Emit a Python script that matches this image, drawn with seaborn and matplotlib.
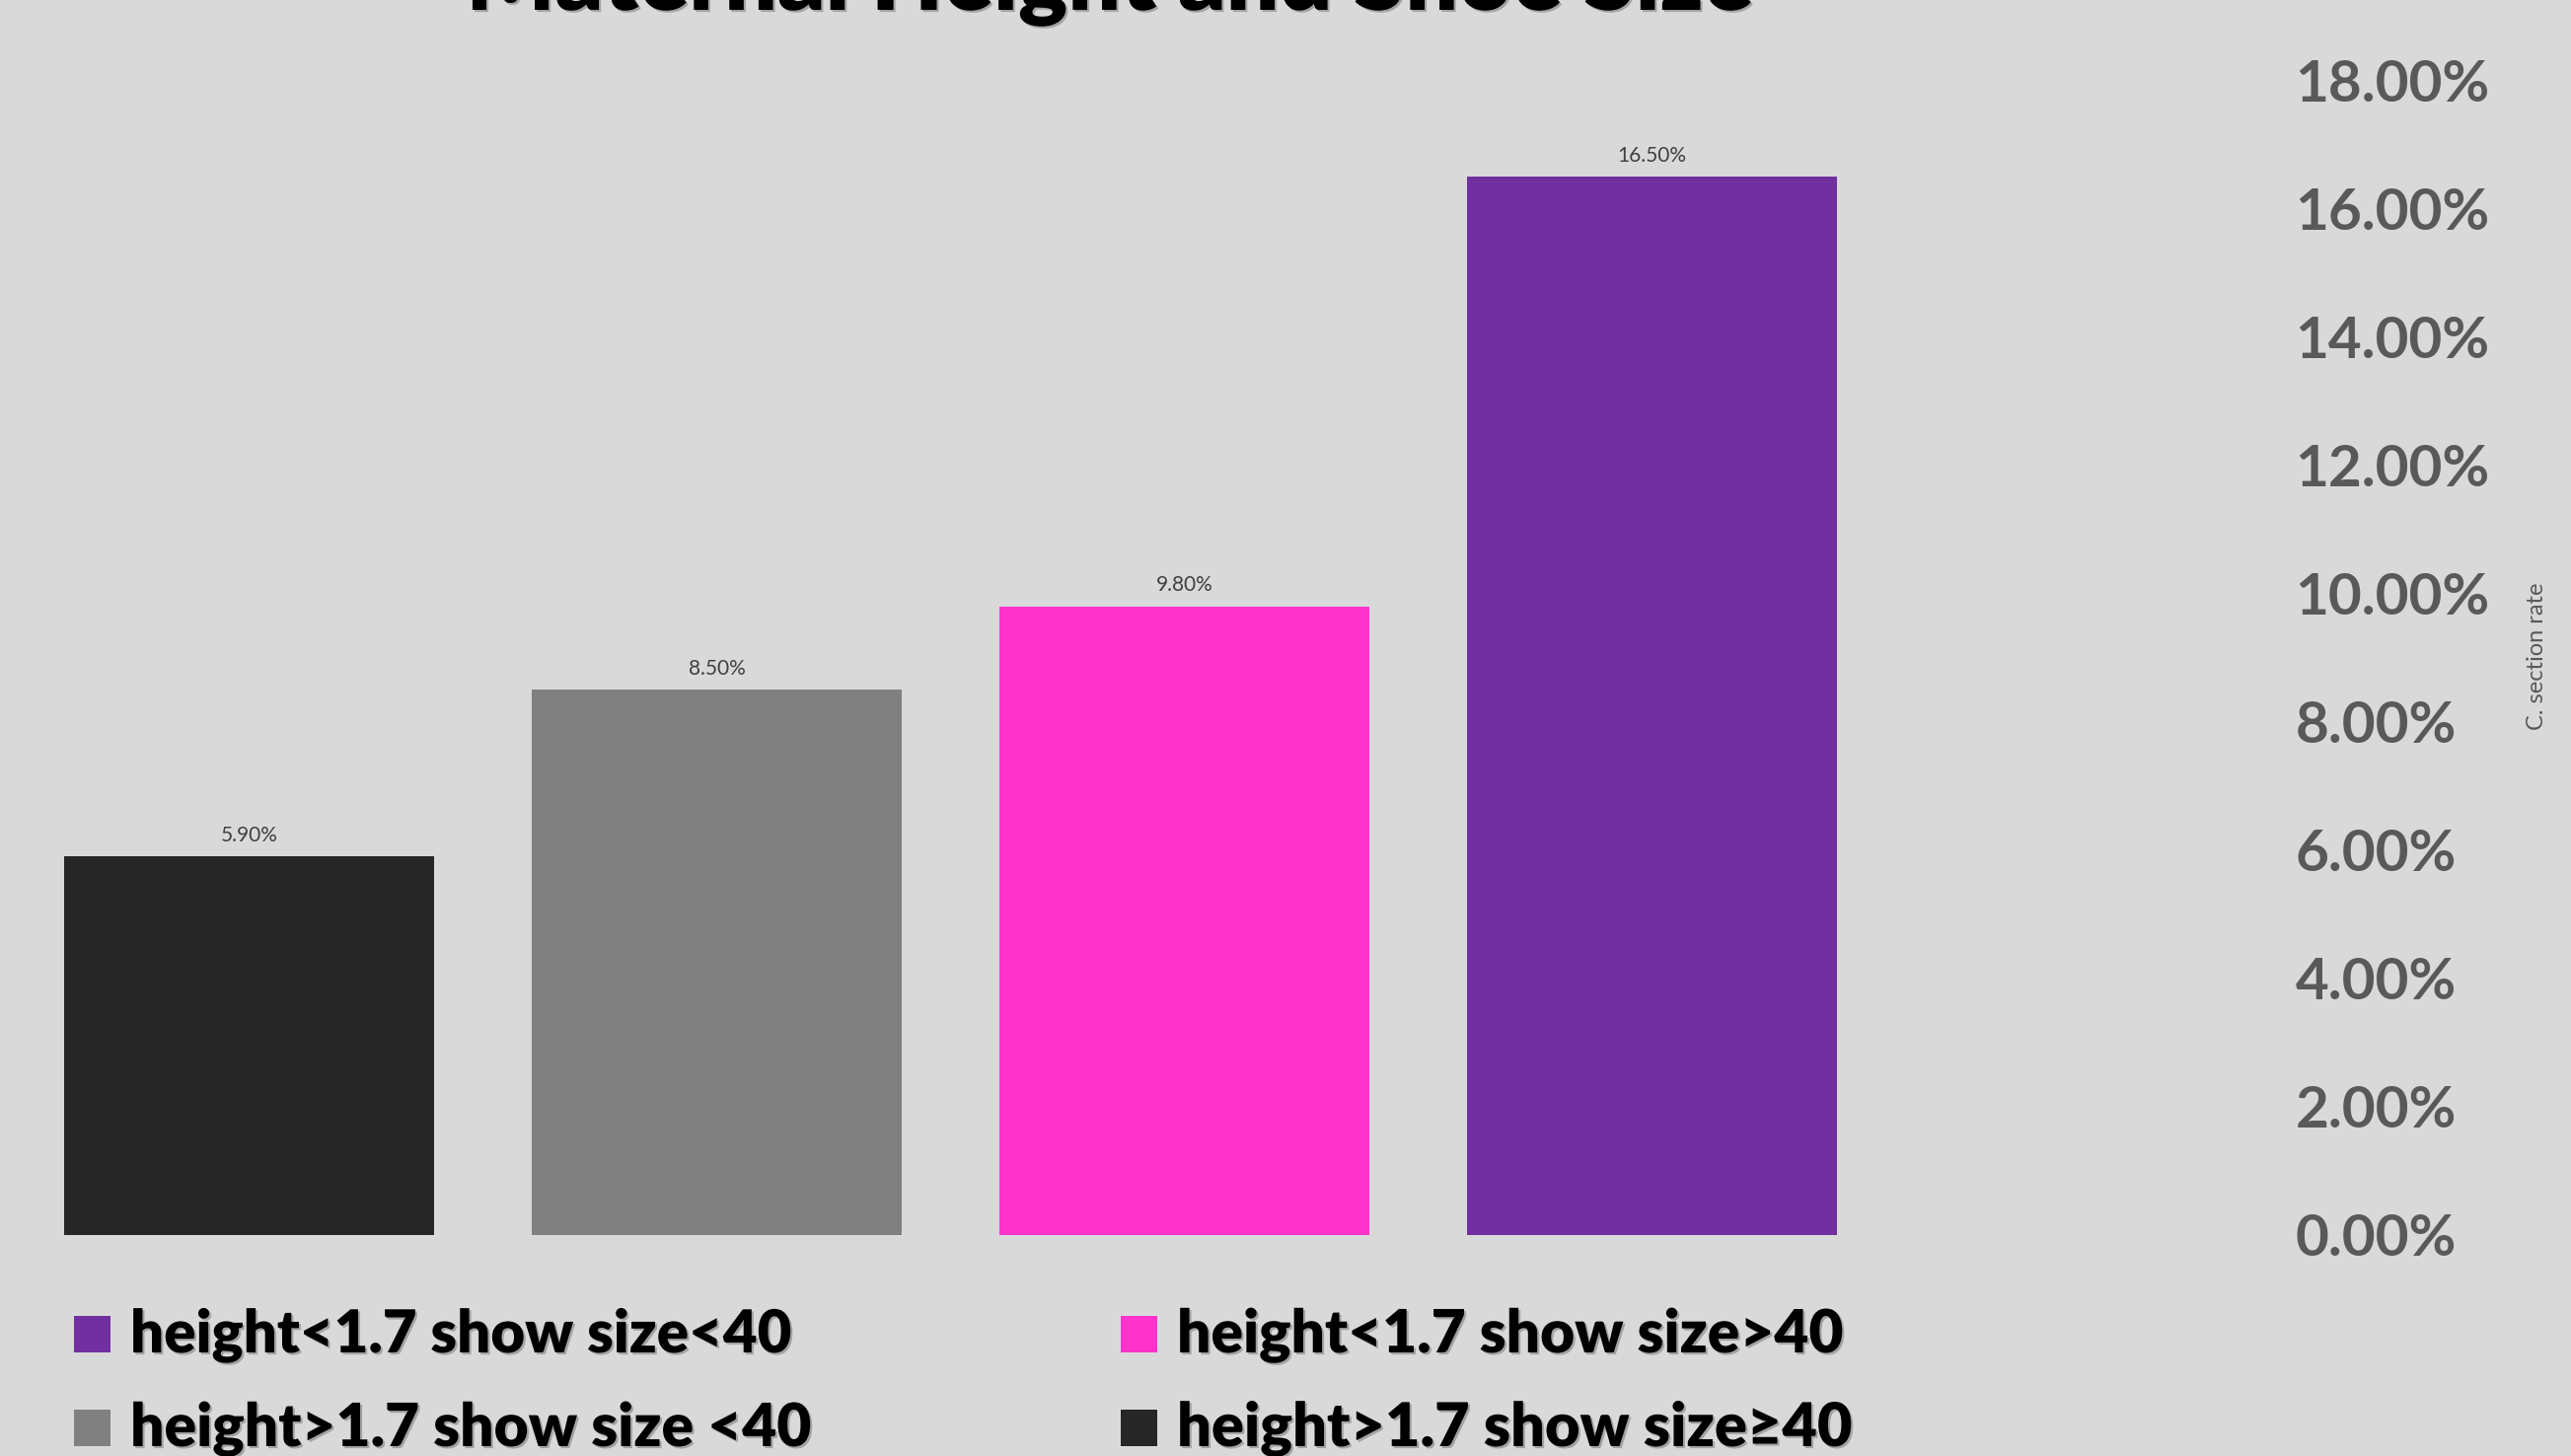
import matplotlib
matplotlib.use("Agg")
import matplotlib.pyplot as plt
import matplotlib.patheffects as pe
from matplotlib.patches import Rectangle
from matplotlib.ticker import FuncFormatter
import seaborn as sns
import pandas as pd

# ---- data ----
categories = ["height>1.7 show size≥40", "height>1.7 show size <40",
              "height<1.7 show size>40", "height<1.7 show size<40"]
rates = [0.059, 0.085, 0.098, 0.165]
colors = ["#262626", "#808080", "#FF33CC", "#7030A0"]
legend_order = [3, 2, 1, 0]  # row-major: purple, magenta / gray, black
title_text = "Maternal Height and Shoe Size"
ylabel_text = "C. section rate"
yticks = [0.0, 0.02, 0.04, 0.06, 0.08, 0.10, 0.12, 0.14, 0.16, 0.18]

W, H = 2606, 1476
BG = "#D9D9D9"
sns.set_theme(style="white")
plt.rcParams["font.family"] = ["Lato", "DejaVu Sans"]

fig = plt.figure(figsize=(W / 100, H / 100), dpi=100, facecolor=BG)

# axes placement in pixels
x_center0, unit = 252.6, 474.0
ax_left_px, ax_right_px = 15.6, 2318.0
y0_px, y18_px = 1251.7, 81.4
ax = fig.add_axes([ax_left_px / W, (H - y0_px) / H,
                   (ax_right_px - ax_left_px) / W, (y0_px - y18_px) / H])
ax.set_facecolor(BG)

df = pd.DataFrame({"cat": categories, "rate": rates})
sns.barplot(data=df, x="cat", y="rate", hue="cat", palette=colors,
            order=categories, hue_order=categories, width=0.79,
            legend=False, ax=ax, saturation=1, linewidth=0, edgecolor="none")

ax.set_xlim(-0.5, (ax_right_px - x_center0) / unit)
ax.set_ylim(0, 0.18)
ax.set_yticks(yticks)
ax.yaxis.set_major_formatter(FuncFormatter(lambda v, p: f"{v*100:.2f}%"))
ax.yaxis.tick_right()
ax.tick_params(axis="y", length=0, pad=6, labelsize=42, labelcolor="#595959")
for lbl in ax.get_yticklabels():
    lbl.set_fontweight("bold")
ax.set_xticks([])
ax.set_xlabel("")
ax.set_ylabel("")
for s in ax.spines.values():
    s.set_visible(False)

for cont in ax.containers:
    ax.bar_label(cont, labels=[f"{v*100:.2f}%" for v in cont.datavalues],
                 padding=8, fontsize=15, color="#404040")

fig.canvas.draw()
renderer = fig.canvas.get_renderer()


def fit(t, target_w):
    w = t.get_window_extent(renderer).width
    t.set_fontsize(t.get_fontsize() * target_w / w)


shadow = [pe.withSimplePatchShadow(offset=(1.5, -1.5), shadow_rgbFace="#7f7f7f", alpha=0.6)]

# title (mostly cut off at top, as in the reference)
title = fig.text(1125 / W, 1 - 10 / H, title_text, ha="center", va="baseline",
                 fontsize=50, fontweight="heavy", color="black")
fit(title, 1304)
title.set_path_effects(shadow)

# y label on right
yl = fig.text(2571 / W, (H - 665) / H, ylabel_text, rotation=90, ha="center",
              va="center", fontsize=15, color="#595959")
fig.canvas.draw()
w = yl.get_window_extent(renderer).height
yl.set_fontsize(yl.get_fontsize() * 150 / w)

# legend (manual, 2x2)
positions = [(75, 1371), (1136, 1371), (75, 1466), (1136, 1466)]
sq = 37
for (px, py), idx in zip(positions, legend_order):
    fig.patches.append(Rectangle((px / W, (H - py) / H), sq / W, sq / H,
                                 transform=fig.transFigure, facecolor=colors[idx],
                                 edgecolor="none"))
    t = fig.text((px + sq + 20) / W, (H - py) / H, categories[idx],
                 ha="left", va="baseline", fontsize=40, fontweight="heavy",
                 color="black")
    fig.canvas.draw()
    target = {0: 684, 1: 690, 2: 675, 3: 670}[idx]
    fit(t, target)
    t.set_path_effects(shadow)

fig.savefig("out.png", dpi=100, facecolor=BG)
